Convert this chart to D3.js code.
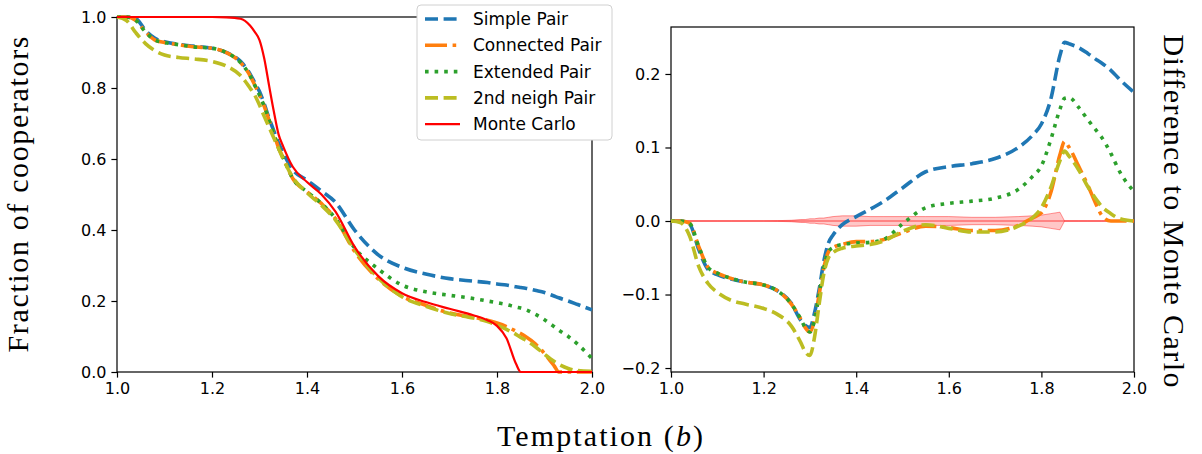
<!DOCTYPE html>
<html>
<head>
<meta charset="utf-8">
<script src="https://cdn.jsdelivr.net/npm/d3@7"></script>
<style>
body { margin: 0; background: #fff; }
.tick text { font-family: "DejaVu Sans", sans-serif; font-size: 16px; fill: #000; }
.tick line { stroke: #000; stroke-width: 1.2; }
.label { font-family: "Liberation Serif", "Times New Roman", Tinos, serif; font-size: 30px; fill: #000; }
.legend text { font-family: "DejaVu Sans", sans-serif; font-size: 17px; fill: #000; }
</style>
</head>
<body>
<svg id="chart" width="1202" height="454"></svg>
<script>
/* data */
const temptation = [1.00, 1.02, 1.04, 1.06, 1.08, 1.10, 1.13, 1.16, 1.20, 1.23, 1.26, 1.28, 1.29, 1.30,
  1.31, 1.32, 1.33, 1.34, 1.35, 1.37, 1.40, 1.43, 1.46, 1.50, 1.55, 1.60, 1.65, 1.70, 1.75, 1.78,
  1.80, 1.82, 1.84, 1.85, 1.86, 1.88, 1.90, 1.92, 1.93, 1.95, 1.97, 2.00];

// left panel: fraction of cooperators
const simplePair = [1, 1, 0.995, 0.962, 0.94, 0.93, 0.923, 0.918, 0.912, 0.9, 0.875, 0.84, 0.815, 0.79,
  0.755, 0.715, 0.68, 0.645, 0.617, 0.57, 0.54, 0.51, 0.478, 0.4, 0.33, 0.295, 0.276, 0.263, 0.256, 0.252,
  0.248, 0.245, 0.24, 0.238, 0.236, 0.23, 0.224, 0.214, 0.209, 0.2, 0.19, 0.175];
const connectedPair = [1, 1, 0.99, 0.958, 0.935, 0.928, 0.922, 0.916, 0.912, 0.9, 0.872, 0.835, 0.808, 0.78,
  0.748, 0.71, 0.672, 0.632, 0.603, 0.545, 0.508, 0.475, 0.432, 0.34, 0.262, 0.213, 0.188, 0.166, 0.154, 0.146,
  0.138, 0.128, 0.115, 0.108, 0.1, 0.08, 0.052, 0.018, 0, 0, 0, 0];
const extendedPair = [1, 1, 0.99, 0.958, 0.935, 0.928, 0.922, 0.916, 0.912, 0.9, 0.872, 0.835, 0.808, 0.78,
  0.748, 0.71, 0.672, 0.632, 0.603, 0.545, 0.508, 0.475, 0.432, 0.35, 0.29, 0.245, 0.226, 0.216, 0.207, 0.2,
  0.195, 0.19, 0.183, 0.18, 0.176, 0.163, 0.147, 0.128, 0.118, 0.1, 0.078, 0.038];
const secondNeighPair = [1, 0.99, 0.955, 0.925, 0.905, 0.893, 0.886, 0.882, 0.875, 0.862, 0.835, 0.8, 0.78, 0.752,
  0.72, 0.69, 0.66, 0.63, 0.6, 0.548, 0.505, 0.47, 0.428, 0.345, 0.265, 0.212, 0.185, 0.165, 0.152, 0.142,
  0.132, 0.12, 0.106, 0.097, 0.09, 0.072, 0.05, 0.03, 0.022, 0.01, 0.004, 0.002];
const monteCarlo = [1, 1, 1, 1, 1, 1, 1, 1, 1, 0.999, 0.995, 0.976, 0.958, 0.935,
  0.883, 0.808, 0.735, 0.67, 0.635, 0.578, 0.535, 0.501, 0.452, 0.353, 0.27, 0.222, 0.197, 0.178, 0.16, 0.146,
  0.13, 0.095, 0.023, 0, 0, 0, 0, 0, 0, 0, 0, 0];

// right panel: difference to Monte Carlo
const simpleDiff = [0, 0, -0.004, -0.039, -0.066, -0.073, -0.079, -0.083, -0.087, -0.095, -0.112, -0.135, -0.142, -0.145,
  -0.125, -0.093, -0.055, -0.03, -0.019, -0.005, 0.006, 0.016, 0.027, 0.045, 0.067, 0.074, 0.078, 0.085, 0.1, 0.116,
  0.132, 0.165, 0.225, 0.243, 0.241, 0.236, 0.228, 0.219, 0.215, 0.205, 0.192, 0.175];
const connectedDiff = [0, 0, -0.003, -0.035, -0.063, -0.071, -0.078, -0.083, -0.087, -0.095, -0.113, -0.133, -0.145, -0.151,
  -0.135, -0.1, -0.064, -0.042, -0.036, -0.032, -0.028, -0.028, -0.025, -0.016, -0.007, -0.009, -0.013, -0.013, -0.006, 0.004,
  0.011, 0.038, 0.09, 0.108, 0.1, 0.075, 0.049, 0.02, 0.008, 0, 0, 0];
const extendedDiff = [0, 0, -0.003, -0.035, -0.063, -0.071, -0.078, -0.083, -0.087, -0.095, -0.113, -0.133, -0.145, -0.151,
  -0.135, -0.1, -0.064, -0.042, -0.036, -0.032, -0.03, -0.029, -0.025, -0.004, 0.018, 0.024, 0.027, 0.031, 0.043, 0.06,
  0.075, 0.11, 0.152, 0.167, 0.168, 0.155, 0.138, 0.122, 0.114, 0.092, 0.066, 0.04];
const secondNeighDiff = [0, -0.002, -0.02, -0.062, -0.085, -0.097, -0.108, -0.113, -0.119, -0.127, -0.143, -0.165, -0.178, -0.183,
  -0.158, -0.113, -0.072, -0.05, -0.043, -0.037, -0.034, -0.032, -0.027, -0.014, -0.005, -0.01, -0.015, -0.015, -0.007, 0.004,
  0.018, 0.045, 0.082, 0.095, 0.088, 0.07, 0.047, 0.028, 0.02, 0.01, 0.003, 0];
const mcError = [0, 0, 0, 0, 0, 0, 0, 0, 0, 0.0005, 0.001, 0.002, 0.002, 0.003,
  0.003, 0.004, 0.004, 0.005, 0.006, 0.007, 0.007, 0.006, 0.006, 0.006, 0.006, 0.006, 0.005, 0.005, 0.006, 0.007,
  0.008, 0.01, 0.012, 0, 0, 0, 0, 0, 0, 0, 0, 0];

const seriesNames = ["Simple Pair", "Connected Pair", "Extended Pair", "2nd neigh Pair", "Monte Carlo"];
const bTicks = [1.0, 1.2, 1.4, 1.6, 1.8, 2.0];
const fracTicks = [0.0, 0.2, 0.4, 0.6, 0.8, 1.0];
const diffTicks = [-0.2, -0.1, 0.0, 0.1, 0.2];

/* styles */
const styles = [
  {color: "#1f77b4", width: 3.6, dash: "13,5.6"},
  {color: "#ff7f0e", width: 3.6, dash: "22,5.6,3.6,5.6"},
  {color: "#2ca02c", width: 3.6, dash: "3.6,6"},
  {color: "#bcbd22", width: 3.6, dash: "13,5.6"},
  {color: "#ff0000", width: 2.2, dash: null}
];

var svg = d3.select("#chart");
var fmt = d3.format(".1f");

/* left panel */
var left = {x0: 117, x1: 592, y0: 17, y1: 372};
var xl = d3.scaleLinear().domain([1, 2]).range([left.x0, left.x1]);
var yl = d3.scaleLinear().domain([0, 1]).range([left.y1, left.y0]);

/* right panel */
var right = {x0: 671, x1: 1134, y0: 27, y1: 372};
var xr = d3.scaleLinear().domain([1, 2]).range([right.x0, right.x1]);
var yr = d3.scaleLinear().domain([-0.2054, 0.2639]).range([right.y1, right.y0]);

function frame(p) {
  svg.append("rect")
    .attr("x", p.x0).attr("y", p.y0)
    .attr("width", p.x1 - p.x0).attr("height", p.y1 - p.y0)
    .attr("fill", "none").attr("stroke", "#000").attr("stroke-width", 1.2);
}

function axes(x, y, p, yt) {
  svg.append("g")
    .attr("transform", "translate(0," + p.y1 + ")")
    .call(d3.axisBottom(x).tickValues(bTicks).tickFormat(fmt).tickSize(5.6).tickPadding(5))
    .call(g => g.select(".domain").remove());
  svg.append("g")
    .attr("transform", "translate(" + p.x0 + ",0)")
    .call(d3.axisLeft(y).tickValues(yt).tickFormat(fmt).tickSize(5.6).tickPadding(5))
    .call(g => g.select(".domain").remove());
}

frame(left);
axes(xl, yl, left, fracTicks);
frame(right);
axes(xr, yr, right, diffTicks);

function drawLine(x, y, vals, s) {
  var line = d3.line()
    .x((d, i) => x(temptation[i]))
    .y(d => y(d))
    .curve(d3.curveMonotoneX);
  svg.append("path")
    .datum(vals)
    .attr("d", line)
    .attr("fill", "none")
    .attr("stroke", s.color)
    .attr("stroke-width", s.width)
    .attr("stroke-dasharray", s.dash);
}

var leftSeries = [simplePair, connectedPair, extendedPair, secondNeighPair, monteCarlo];
leftSeries.forEach((vals, i) => drawLine(xl, yl, vals, styles[i]));

// Monte Carlo error band around zero
var band = d3.area()
  .x((d, i) => xr(temptation[i]))
  .y0(d => yr(-d))
  .y1(d => yr(d));
svg.append("path")
  .datum(mcError)
  .attr("d", band)
  .attr("fill", "rgba(255,0,0,0.22)")
  .attr("stroke", "rgba(255,0,0,0.4)")
  .attr("stroke-width", 1);
svg.append("line")
  .attr("x1", xr(1)).attr("x2", xr(2))
  .attr("y1", yr(0)).attr("y2", yr(0))
  .attr("stroke", "rgba(255,0,0,0.45)")
  .attr("stroke-width", 1.3);

var rightSeries = [simpleDiff, connectedDiff, extendedDiff, secondNeighDiff];
rightSeries.forEach((vals, i) => drawLine(xr, yr, vals, styles[i]));

/* legend */
var legend = svg.append("g").attr("class", "legend");
legend.append("rect")
  .attr("x", 417).attr("y", 5)
  .attr("width", 195).attr("height", 135)
  .attr("rx", 4)
  .attr("fill", "#fff")
  .attr("stroke", "#d0d0d0");
seriesNames.forEach(function (name, i) {
  var yy = 19 + i * 26.3;
  legend.append("line")
    .attr("x1", 425).attr("x2", 460)
    .attr("y1", yy).attr("y2", yy)
    .attr("stroke", styles[i].color)
    .attr("stroke-width", styles[i].width)
    .attr("stroke-dasharray", styles[i].dash);
  legend.append("text")
    .attr("x", 473).attr("y", yy)
    .attr("dy", "0.35em")
    .text(name);
});

/* axis labels */
svg.append("text")
  .attr("class", "label")
  .attr("text-anchor", "middle")
  .attr("transform", "translate(28,194.5) rotate(-90)")
  .attr("textLength", 316)
  .attr("lengthAdjust", "spacing")
  .text("Fraction of cooperators");

svg.append("text")
  .attr("class", "label")
  .attr("text-anchor", "middle")
  .attr("transform", "translate(1164,211) rotate(90)")
  .attr("textLength", 353)
  .attr("lengthAdjust", "spacing")
  .text("Difference to Monte Carlo");

var xlab = svg.append("text")
  .attr("class", "label")
  .attr("text-anchor", "middle")
  .attr("x", 600).attr("y", 446)
  .attr("textLength", 206)
  .attr("lengthAdjust", "spacing");
xlab.append("tspan").text("Temptation (");
xlab.append("tspan").attr("font-style", "italic").text("b");
xlab.append("tspan").text(")");
</script>
</body>
</html>
